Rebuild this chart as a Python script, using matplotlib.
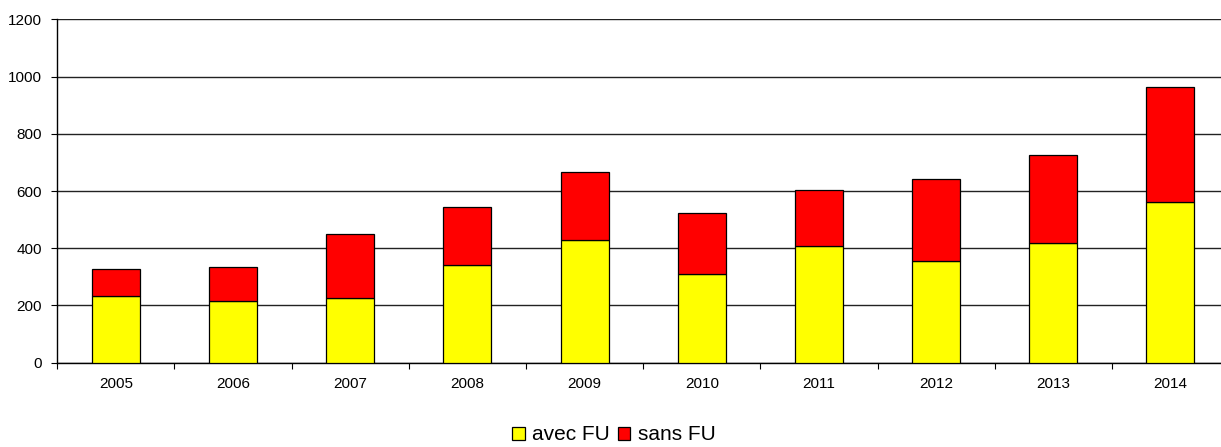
import matplotlib
matplotlib.use("Agg")
import matplotlib.pyplot as plt
import numpy as np

plt.rcParams['font.family'] = ['Liberation Sans', 'DejaVu Sans']

years = ['2005', '2006', '2007', '2008', '2009', '2010', '2011', '2012', '2013', '2014']
avec_fu = [232, 216, 227, 342, 428, 311, 407, 354, 418, 560]
sans_fu = [95, 117, 224, 203, 240, 213, 197, 287, 307, 404]
yticks = [0, 200, 400, 600, 800, 1000, 1200]

fig = plt.figure(figsize=(12.21, 4.47), dpi=100)
ax = fig.add_axes([0.0469, 0.1886, 0.9597, 0.7682])

x = np.arange(len(years))
w = 0.41
b1 = ax.bar(x, avec_fu, width=w, color='#FFFF00', edgecolor='black', linewidth=0.9,
            label='avec FU', zorder=3)
b2 = ax.bar(x, sans_fu, width=w, bottom=avec_fu, color='#FF0000', edgecolor='black',
            linewidth=0.9, label='sans FU', zorder=3)

ax.set_xlim(-0.5, len(years) - 0.5)
ax.set_ylim(0, 1200)
ax.set_yticks(yticks)
ax.set_yticklabels([str(v) for v in yticks])
ax.yaxis.grid(True, color='#222222', linewidth=1.0, zorder=0)
ax.set_axisbelow(True)

ax.set_xticks(np.arange(len(years) + 1) - 0.5)
ax.set_xticklabels([])
ax.set_xticks(x, minor=True)
ax.set_xticklabels(years, minor=True)
ax.tick_params(axis='x', which='major', length=4, width=0.8, direction='out', color='black')
ax.tick_params(axis='x', which='minor', length=0, pad=10, labelsize=11)
ax.tick_params(axis='y', length=4, width=0.8, direction='out', pad=7, labelsize=11)

for s in ['top', 'right']:
    ax.spines[s].set_visible(False)
for s in ['left', 'bottom']:
    ax.spines[s].set_color('black')
    ax.spines[s].set_linewidth(1.0)

fig.legend(handles=[b1, b2], labels=['avec FU', 'sans FU'], loc='center',
           bbox_to_anchor=(614 / 1221, 1 - 435 / 447), ncol=2, frameon=False,
           fontsize=15, handlelength=0.59, handleheight=0.59, handletextpad=0.36,
           columnspacing=0.4, borderpad=0, borderaxespad=0)

fig.savefig('out.png', dpi=100)
